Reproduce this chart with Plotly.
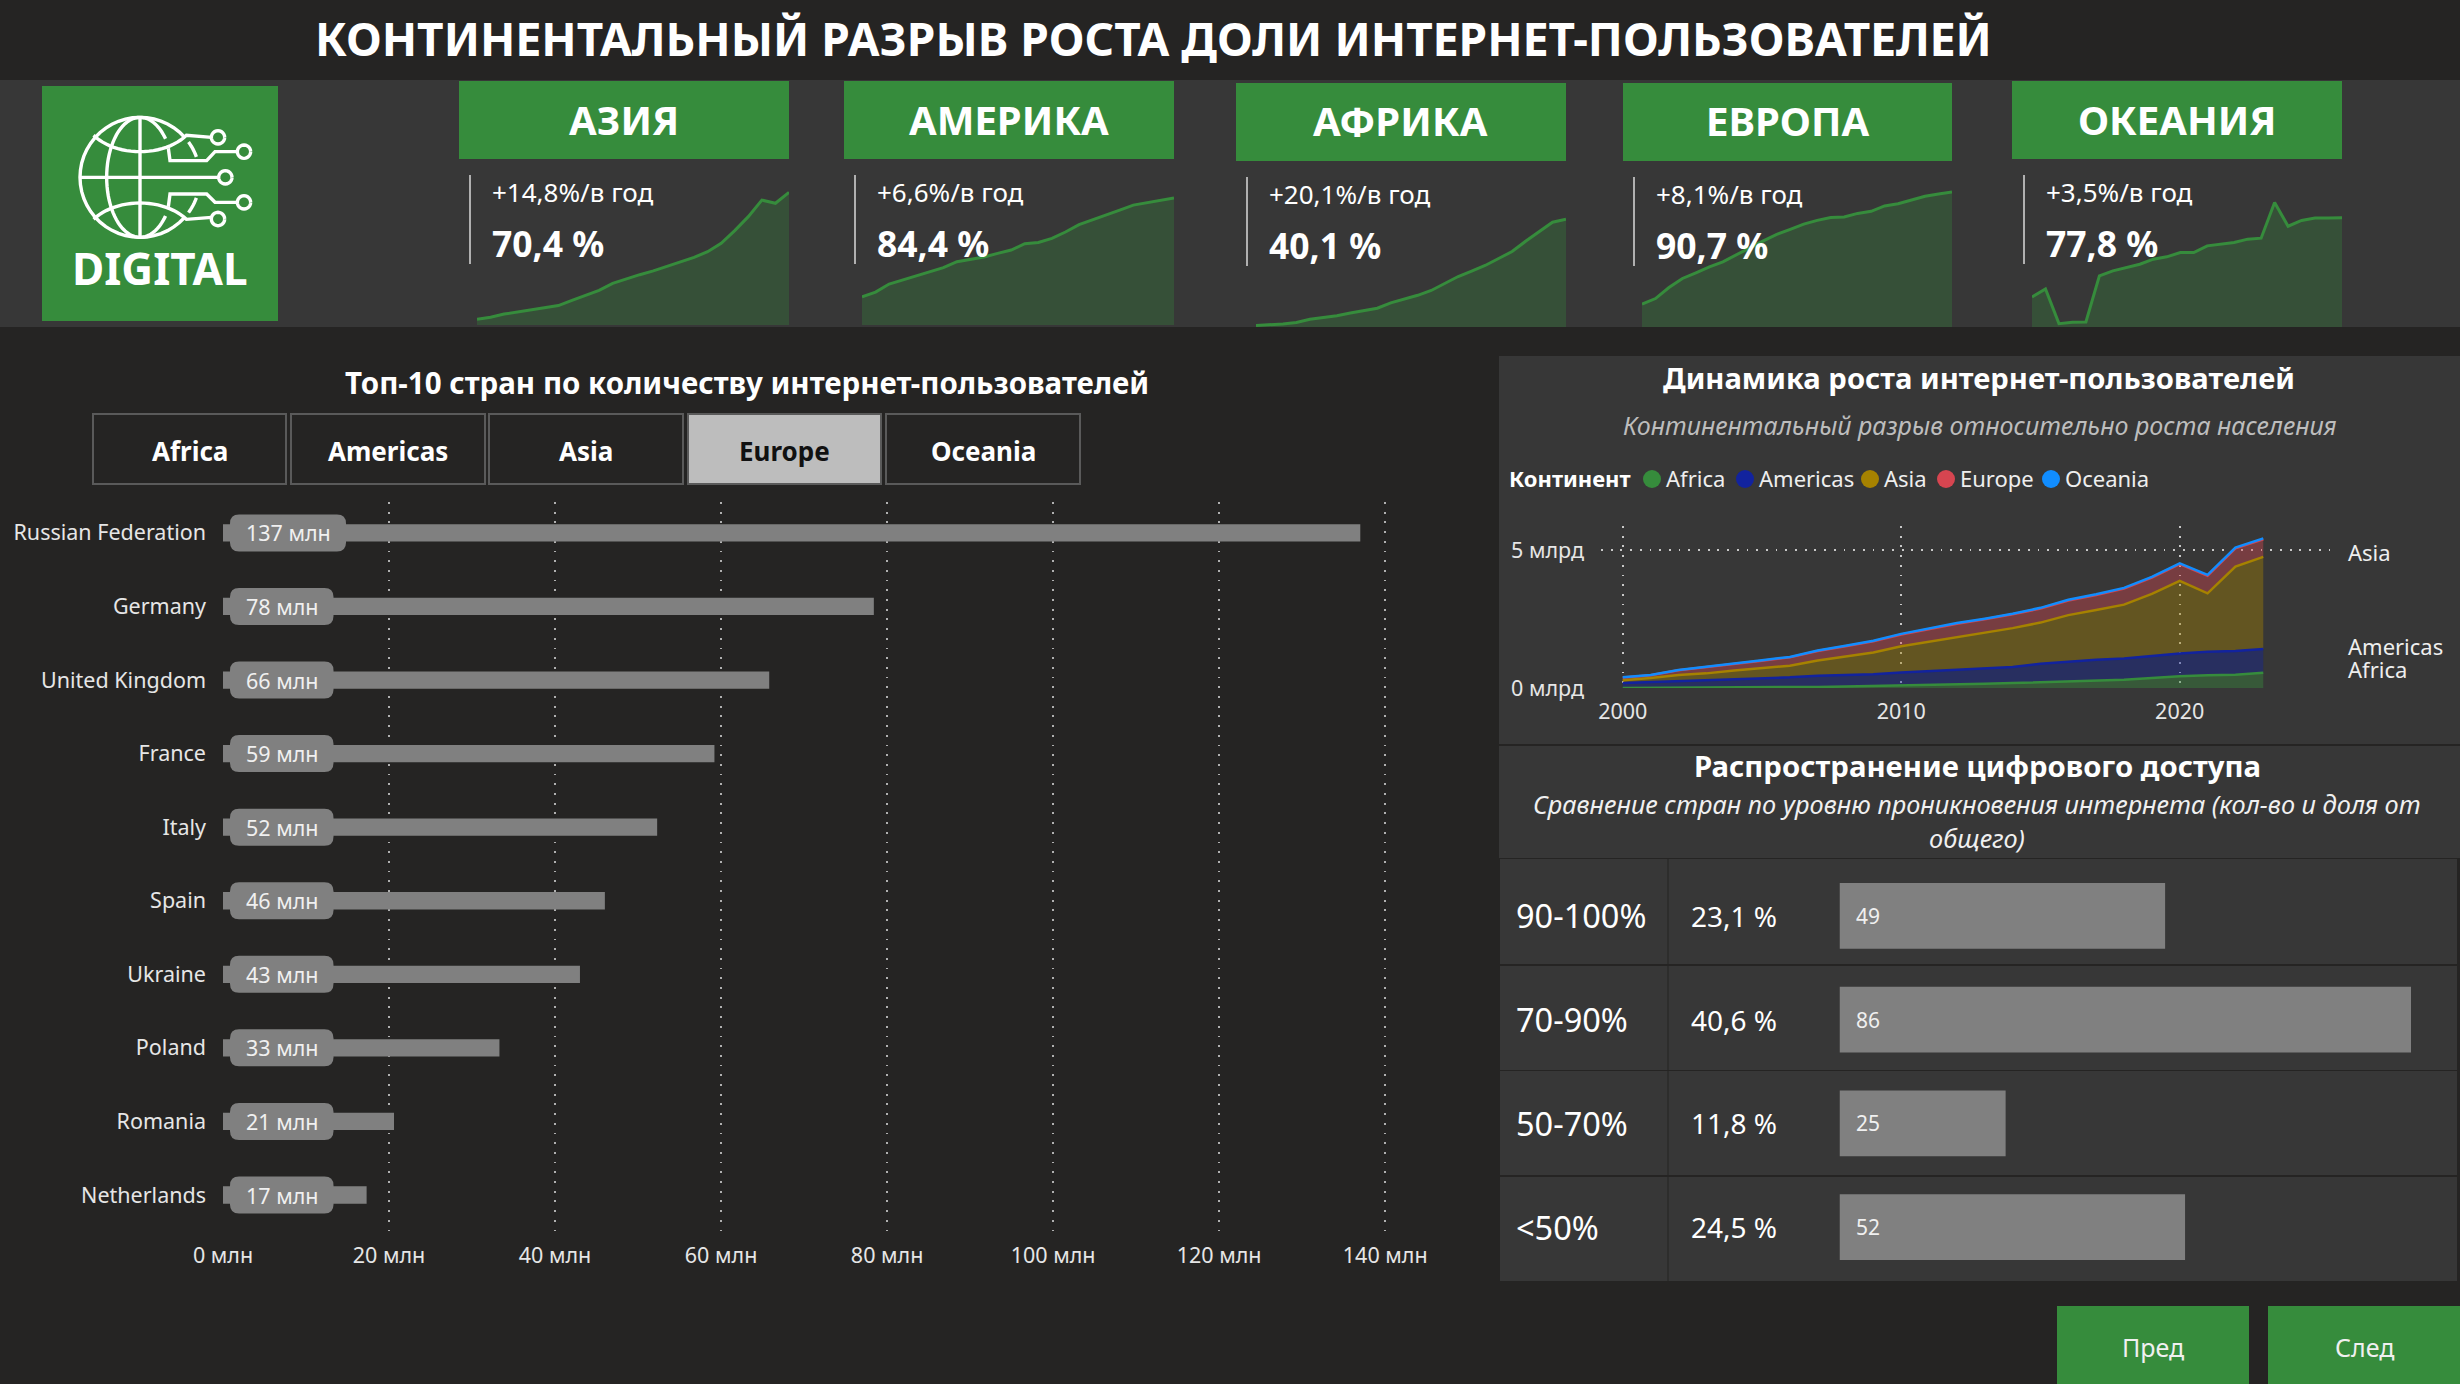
import math
import plotly.graph_objects as go

W, H = 2460, 1384
FONT = "Noto Sans"
BG = "#252423"
PANEL = "#373737"
GREEN = "#368C3C"
BAR = "#808080"

# ---------- data ----------
years = list(range(2000, 2024))
card_names = ["АЗИЯ", "АМЕРИКА", "АФРИКА", "ЕВРОПА", "ОКЕАНИЯ"]
card_growth = ["+14,8%/в год", "+6,6%/в год", "+20,1%/в год", "+8,1%/в год", "+3,5%/в год"]
card_values = ["70,4 %", "84,4 %", "40,1 %", "90,7 %", "77,8 %"]
share_asia = [3.0, 4.1, 5.8, 6.9, 8.1, 9.2, 10.3, 13.1, 15.7, 18.4, 22.1, 24.6, 26.7, 28.7, 31.0, 33.3, 35.9, 38.9, 43.3, 50.1, 57.5, 66.3, 64.6, 70.4]
share_america = [18.8, 21.9, 27.2, 29.9, 32.6, 35.4, 38.1, 42.1, 43.6, 45.2, 47.6, 49.8, 54.0, 54.9, 57.6, 61.8, 66.7, 69.8, 73.1, 76.4, 79.7, 81.3, 82.4, 84.4]
share_africa = [0.6, 0.9, 1.1, 1.7, 2.9, 3.5, 4.2, 5.2, 6.0, 7.0, 9.0, 10.3, 11.8, 13.6, 16.2, 18.8, 20.8, 22.9, 25.5, 28.1, 31.9, 35.5, 39.0, 40.1]
share_europe = [15.3, 19.1, 26.5, 32.6, 36.4, 40.4, 43.8, 48.3, 53.2, 57.9, 62.2, 65.6, 69.1, 71.6, 73.6, 73.9, 76.3, 77.7, 81.3, 82.8, 85.3, 87.8, 89.4, 90.7]
share_oceania = [21.4, 27.1, 2.4, 3.3, 3.6, 36.4, 40.0, 42.3, 44.7, 48.3, 50.0, 53.0, 53.0, 57.8, 59.0, 60.2, 62.6, 63.3, 88.7, 71.8, 75.9, 77.6, 77.6, 77.8]
card_series = [share_asia, share_america, share_africa, share_europe, share_oceania]
card_range_max = [79.6, 99.7, 56.6, 102.1, 108.3]

countries = ["Russian Federation", "Germany", "United Kingdom", "France", "Italy", "Spain", "Ukraine", "Poland", "Romania", "Netherlands"]
users_mln = [137, 78.4, 65.8, 59.2, 52.3, 46, 43, 33.3, 20.6, 17.3]
bar_ticks = [0, 20, 40, 60, 80, 100, 120, 140]
tabs = ["Africa", "Americas", "Asia", "Europe", "Oceania"]

africa = [.004, .006, .01, .013, .017, .024, .03, .04, .05, .065, .08, .10, .125, .15, .18, .21, .24, .27, .30, .36, .43, .46, .48, .55]
americas = [.176, .204, .23, .257, .283, .316, .355, .405, .42, .435, .485, .51, .535, .56, .58, .67, .72, .75, .77, .80, .82, .85, .86, .86]
asia = [.10, .15, .23, .26, .33, .37, .425, .555, .67, .79, .945, 1.06, 1.18, 1.28, 1.41, 1.49, 1.68, 1.81, 1.95, 2.25, 2.63, 2.12, 3.06, 3.34]
europe = [.10, .10, .17, .22, .25, .28, .30, .34, .37, .40, .43, .46, .49, .50, .50, .51, .53, .54, .58, .59, .61, .64, .66, .64]
oceania = [.01, .011, .012, .013, .015, .016, .017, .018, .019, .02, .021, .021, .022, .023, .024, .025, .026, .027, .027, .028, .029, .03, .03, .03]
area_names = ["Africa", "Americas", "Asia", "Europe", "Oceania"]
area_series = [africa, americas, asia, europe, oceania]
area_colors = ["#368C3C", "#12239E", "#A68200", "#D64550", "#118DFF"]

bands = ["90-100%", "70-90%", "50-70%", "<50%"]
band_share = ["23,1 %", "40,6 %", "11,8 %", "24,5 %"]
band_counts = [49, 86, 25, 52]

# ---------- helpers ----------
def px(x):
    return x / W
def py(y):
    return 1 - y / H

shapes, annos = [], []

def rect(x0, y0, x1, y1, fill, line=None, lw=0):
    shapes.append(dict(type="rect", xref="paper", yref="paper", x0=px(x0), x1=px(x1), y0=py(y0), y1=py(y1),
                       fillcolor=fill, line=dict(color=line or fill, width=lw), layer="below"))

def vline(x, y0, y1, color, lw=2):
    shapes.append(dict(type="line", xref="paper", yref="paper", x0=px(x), x1=px(x), y0=py(y0), y1=py(y1),
                       line=dict(color=color, width=lw), layer="below"))

def txt(x, y, s, size, color="white", bold=False, italic=False, anchor="left"):
    annos.append(dict(xref="paper", yref="paper", x=px(x), y=py(y), text=s, showarrow=False, xanchor=anchor,
                      yanchor="middle", borderpad=0,
                      font=dict(family=FONT, size=size, color=color, weight=700 if bold else 400,
                                style="italic" if italic else "normal")))

def logo_path(points):
    # logo artwork is defined on a 3x grid anchored at (30, 70)
    return "M" + "L".join(f"{px(30 + a / 3):.5f},{py(70 + b / 3):.5f}" for a, b in points)

def arc(cx, cy, rx, ry, a0, a1, n=40):
    return [(cx + rx * math.cos(math.radians(a0 + (a1 - a0) * i / n)),
             cy + ry * math.sin(math.radians(a0 + (a1 - a0) * i / n))) for i in range(n + 1)]

def logo_line(points, lw=3.4):
    shapes.append(dict(type="path", xref="paper", yref="paper", path=logo_path(points),
                       line=dict(color="white", width=lw), fillcolor="rgba(0,0,0,0)"))

# ---------- backgrounds ----------
rect(0, 80, W, 327, PANEL)
rect(1499, 356, W, 744, PANEL)
rect(1499, 746, W, 858, PANEL)
row_tops = [(859, 964), (966, 1070), (1071, 1175), (1177, 1281)]
for y0, y1 in row_tops:
    rect(1500, y0, 2457, y1, PANEL)
    vline(1668, y0, y1, BG, 1)

# ---------- header ----------
txt(1153, 38, "КОНТИНЕНТАЛЬНЫЙ РАЗРЫВ РОСТА ДОЛИ ИНТЕРНЕТ-ПОЛЬЗОВАТЕЛЕЙ", 46, bold=True, anchor="center")

# ---------- logo ----------
rect(42, 86, 278, 321, GREEN)
logo_line(arc(330, 322, 180, 180, -42, -318))
logo_line(arc(330, 322, 100, 180, 90, 270))
logo_line(arc(330, 322, 100, 180, -90, -40, 16))
logo_line(arc(330, 322, 100, 180, 90, 40, 16)[::-1])
logo_line(arc(330, 322, 180, 180, -36, -20, 6))
logo_line(arc(330, 322, 180, 180, 36, 20, 6))
logo_line([(330, 142), (330, 502)])
logo_line([(150, 322), (565, 322)])
logo_line(arc(330, 130, 170, 115, 145, 35, 24) + [(545, 202)])
logo_line(arc(330, 514, 170, 115, -145, -35, 24) + [(545, 442)])
logo_line([(415, 235), (420, 272), (530, 272), (555, 245), (620, 245)])
logo_line([(415, 410), (420, 372), (530, 372), (555, 397), (620, 397)])
for cx, cy in [(564, 202), (642, 245), (586, 322), (642, 397), (564, 447)]:
    logo_line(arc(cx, cy, 20, 20, 0, 360, 24))
txt(160, 268, "DIGITAL", 44, bold=True, anchor="center")

# ---------- cards ----------
card_hx = [(459, 789), (844, 1174), (1236, 1566), (1623, 1952), (2012, 2342)]
card_dy = [0, 0, 2, 2, 0]
card_sx = [477, 862, 1256, 1642, 2032]
card_lx = [470, 855, 1247, 1634, 2024]
fig = go.Figure()
for i, name in enumerate(card_names):
    x0, x1 = card_hx[i]
    dy = card_dy[i]
    rect(x0, 81 + dy, x1, 159 + dy, GREEN)
    txt((x0 + x1) / 2, 119 + dy, name, 40, bold=True, anchor="center")
    vline(card_lx[i], 175 + dy, 264 + dy, "#b0b0b0", 2)
    txt(card_lx[i] + 21, 191.5 + dy, card_growth[i], 26)
    txt(card_lx[i] + 21, 243 + dy, card_values[i], 35.5, bold=True)
    fig.add_trace(go.Scatter(x=years, y=card_series[i], mode="lines", fill="tozeroy", cliponaxis=False,
                             line=dict(color=GREEN, width=3), fillcolor="rgba(54,140,60,0.3)",
                             xaxis=f"x{i + 4}", yaxis=f"y{i + 4}", showlegend=False, hoverinfo="skip"))

# ---------- top-10 chart ----------
txt(747, 382, "Топ-10 стран по количеству интернет-пользователей", 29.5, bold=True, anchor="center")
tab_x = [(93, 286), (291, 485), (489, 683), (688, 881), (886, 1080)]
for t, (x0, x1) in zip(tabs, tab_x):
    active = t == "Europe"
    rect(x0, 414, x1, 484, "#BDBDBD" if active else BG, "#5a5a5a", 2)
    txt((x0 + x1) / 2, 451, t, 26, color="#111111" if active else "white", bold=True, anchor="center")

fig.add_trace(go.Bar(x=users_mln, y=countries, orientation="h", marker=dict(color=BAR, line_width=0),
                     width=0.235, showlegend=False, hoverinfo="skip", xaxis="x", yaxis="y"))
for c, v in zip(countries, users_mln):
    label = f"{round(v)} млн"
    wpx = 116 if len(label) > 6 else 103.5
    r, hh = 9, 18.5
    x0, x1 = 7, 7 + wpx
    shapes.append(dict(type="path", xref="x", yref="y", xsizemode="pixel", ysizemode="pixel", xanchor=0, yanchor=c,
                       path=(f"M{x0 + r},{-hh}L{x1 - r},{-hh}Q{x1},{-hh} {x1},{-hh + r}L{x1},{hh - r}Q{x1},{hh} {x1 - r},{hh}"
                             f"L{x0 + r},{hh}Q{x0},{hh} {x0},{hh - r}L{x0},{-hh + r}Q{x0},{-hh} {x0 + r},{-hh}Z"),
                       fillcolor=BAR, line=dict(width=0), layer="above"))
    annos.append(dict(xref="x", yref="y", x=0, y=c, text=label, showarrow=False, xanchor="left", xshift=21,
                      font=dict(family=FONT, size=21.5, color="#f0f0f0")))

# ---------- stacked area ----------
txt(1979, 378, "Динамика роста интернет-пользователей", 29.2, bold=True, anchor="center")
txt(1980, 425, "Континентальный разрыв относительно роста населения", 25, color="#bdbdbd", italic=True, anchor="center")
txt(1508, 478, "Континент", 22, bold=True)
legend_dot = [1652, 1745, 1870, 1946, 2051]
for n, c, dx in zip(area_names, area_colors, legend_dot):
    shapes.append(dict(type="circle", xref="paper", yref="paper", x0=px(dx - 9), x1=px(dx + 9), y0=py(488), y1=py(470),
                       fillcolor=c, line=dict(width=0)))
    txt(dx + 13, 478, n, 22, color="#eeeeee")
for n, s, c in zip(area_names, area_series, area_colors):
    r, g, b = int(c[1:3], 16), int(c[3:5], 16), int(c[5:7], 16)
    fig.add_trace(go.Scatter(x=years, y=s, mode="lines", stackgroup="one", name=n,
                             line=dict(color=c, width=2.5), fillcolor=f"rgba({r},{g},{b},0.4)",
                             xaxis="x2", yaxis="y2", showlegend=False, hoverinfo="skip"))
txt(2347, 552, "Asia", 22, color="#eeeeee")
txt(2347, 646, "Americas", 22, color="#eeeeee")
txt(2347, 669, "Africa", 22, color="#eeeeee")

# ---------- access table ----------
txt(1977, 766, "Распространение цифрового доступа", 29.3, bold=True, anchor="center")
txt(1977, 804, "Сравнение стран по уровню проникновения интернета (кол-во и доля от", 25.3, italic=True, anchor="center", color="#f0f0f0")
txt(1977, 838, "общего)", 25.3, italic=True, anchor="center", color="#f0f0f0")
fig.add_trace(go.Bar(x=band_counts, y=bands, orientation="h", marker=dict(color=BAR, line_width=0), width=0.636,
                     showlegend=False, hoverinfo="skip", xaxis="x3", yaxis="y3"))
for b, s, n in zip(bands, band_share, band_counts):
    annos.append(dict(xref="paper", yref="y3", x=px(1514), y=b, text=b.replace("<", "&lt;"), showarrow=False, xanchor="left",
                      font=dict(family=FONT, size=32.5, color="white")))
    annos.append(dict(xref="paper", yref="y3", x=px(1689), y=b, text=s, showarrow=False, xanchor="left",
                      font=dict(family=FONT, size=28, color="white")))
    annos.append(dict(xref="x3", yref="y3", x=0, y=b, text=str(n), showarrow=False, xanchor="left", xshift=14,
                      font=dict(family=FONT, size=21, color="#f0f0f0")))

# ---------- buttons ----------
rect(2057, 1306, 2249, 1384, GREEN)
rect(2268, 1306, 2460, 1384, GREEN)
txt(2153, 1347, "Пред", 25, color="#f0f0f0", anchor="center")
txt(2364, 1347, "След", 25, color="#f0f0f0", anchor="center")

# ---------- axes ----------
def dom_x(a, b):
    return [a / W, b / W]
def dom_y(top, bottom):
    return [1 - bottom / H, 1 - top / H]

layout_axes = dict(
    xaxis=dict(domain=dom_x(223, 1435), range=[0, 146], tickvals=bar_ticks, ticktext=[f"{t} млн" for t in bar_ticks],
               showgrid=True, gridcolor="#b0b0b0", griddash="1.8px,7.9px", gridwidth=1.8, zeroline=False, showline=False,
               ticks="", ticklabelstandoff=6, tickfont=dict(family=FONT, size=21.5, color="#e6e6e6"), anchor="y", fixedrange=True, automargin=False),
    yaxis=dict(domain=dom_y(502, 1234), range=[9.53, -0.42], type="category", showgrid=False, zeroline=False, showline=False,
               categoryorder="array", categoryarray=countries,
               ticks="", ticklabelstandoff=16, tickfont=dict(family=FONT, size=21.5, color="#e6e6e6"), anchor="x", fixedrange=True, automargin=False),
    xaxis2=dict(domain=dom_x(1601, 2334), range=[1999.22, 2025.54], tickvals=[2000, 2010, 2020], showgrid=True,
                gridcolor="#c8c8c8", griddash="1.8px,7.9px", gridwidth=1.8, zeroline=False, showline=False, ticks="",
                ticklabelstandoff=8, tickfont=dict(family=FONT, size=21.5, color="#e6e6e6"), anchor="y2", fixedrange=True, automargin=False),
    yaxis2=dict(domain=dom_y(526, 688), range=[0, 5.87], tickvals=[0, 5], ticktext=["0 млрд", "5 млрд"], showgrid=True,
                gridcolor="#c8c8c8", griddash="1.8px,7.9px", gridwidth=1.8, zeroline=False, showline=False, ticks="",
                ticklabelstandoff=16, tickfont=dict(family=FONT, size=21.5, color="#e6e6e6"), anchor="x2", fixedrange=True, automargin=False),
    xaxis3=dict(domain=dom_x(1839.5, 2411), range=[0, 86], visible=False, anchor="y3", fixedrange=True, automargin=False),
    yaxis3=dict(domain=dom_y(864, 1279), autorange="reversed", type="category", visible=False, anchor="x3", fixedrange=True, automargin=False),
)
card_bottom = [325, 325, 327, 327, 327]
for i in range(5):
    layout_axes[f"xaxis{i + 4}"] = dict(domain=dom_x(card_sx[i], card_hx[i][1]), range=[2000, 2023], visible=False,
                                        anchor=f"y{i + 4}", fixedrange=True, automargin=False)
    layout_axes[f"yaxis{i + 4}"] = dict(domain=dom_y(175, card_bottom[i]), range=[0, card_range_max[i]], visible=False,
                                        anchor=f"x{i + 4}", fixedrange=True, automargin=False)

fig.update_layout(template="none", width=W, height=H, margin=dict(l=0, r=0, t=0, b=0, autoexpand=False), paper_bgcolor=BG, plot_bgcolor="rgba(0,0,0,0)",
                  font=dict(family=FONT, color="white"), barmode="overlay", shapes=shapes, annotations=annos,
                  showlegend=False, **layout_axes)

fig.write_html("out.html", config=dict(displayModeBar=False),
               post_script="document.body.style.margin='0';document.body.style.overflow='hidden';")
